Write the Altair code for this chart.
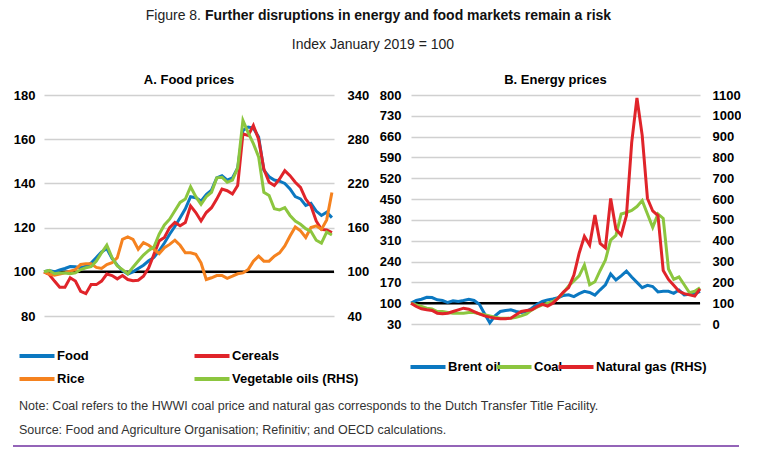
import json
import altair as alt
import pandas as pd

# ---------------- data ----------------
tick_labels = ["Jan-19", "Dec-19", "Nov-20", "Oct-21", "Sep-22", "Aug-23"]
tick_months = [0, 11, 22, 33, 44, 55]

food_names = ["Food", "Cereals", "Rice", "Vegetable oils (RHS)"]
food_colors = ["#0b78c1", "#e0242a", "#f5821f", "#8cc63f"]
energy_names = ["Brent oil", "Coal", "Natural gas (RHS)"]
energy_colors = ["#0b78c1", "#8cc63f", "#e0242a"]

food = [100, 100.6, 100, 100.8, 101.5, 102.4, 102.3, 101.8, 102.5, 104,
        106.5, 109, 110.5, 106, 103, 100.5, 99, 100, 101.5, 103,
        105, 106.5, 109.5, 113, 117, 120.5, 124.5, 128.5, 134, 133.5,
        132, 135, 137, 142.5, 143.5, 141.5, 142.5, 147, 164, 165.5,
        165, 161, 146, 143, 141.5, 141, 140, 137.5, 134, 133,
        130, 131, 127.5, 125.5, 127, 124.5]
cereals = [100, 98.8, 95.8, 93, 93, 97.3, 95.8, 91.2, 90.1, 94.2,
           94.2, 95.8, 99, 98.3, 96.8, 98.3, 96.5, 96, 96.2, 98,
           101.8, 107.9, 114, 115.5, 120, 122.3, 120.8, 122.3, 129.8, 126.8,
           123, 126.8, 129, 132.9, 137.4, 136.7, 135.2, 139, 162.4, 161.7,
           166.2, 160, 146.5, 140.5, 139, 142, 145.8, 143.5, 140.5, 138.2,
           132.9, 129.8, 123, 119.2, 118.9, 117.7]
rice = [100, 99, 98.5, 99, 99.5, 100.3, 101, 103.3, 103.6, 103.6,
        102, 101.5, 103.3, 104.1, 106.4, 114.7, 115.8, 114.7, 110.2, 113.2,
        112, 110.2, 108.2, 110.9, 112.4, 114.3, 112, 108.6, 108.6, 107.9,
        104, 96.5, 97.3, 98.3, 98.3, 97, 98, 99.1, 99.5, 101,
        104.8, 107.1, 104.8, 104.8, 107.1, 108.6, 111.7, 116.2, 120.3, 118.5,
        115.5, 120, 120.8, 119.2, 123.5, 135.9]
veg_oils = [100, 101.8, 97.3, 98.5, 98.5, 97.3, 98.5, 103, 105.4, 106.9,
            114.7, 125.8, 136.3, 119.2, 107.8, 103, 97.3, 106.3, 114.7, 122.8,
            129.1, 133.6, 151, 163.6, 171.4, 182.8, 194.2, 198.7, 215.5, 202,
            191.5, 202, 208, 227.5, 228.4, 221.5, 224.5, 241, 305.5, 289,
            274, 256, 208, 203.5, 185.5, 184, 187, 176.5, 169, 164.5,
            158.5, 155, 142.9, 139, 154, 150]

brent = [100, 109, 113.4, 120, 119, 111.2, 109, 102.2, 107.8, 105.6,
         109, 113.4, 109, 96.6, 64.2, 34, 57.4, 72, 75.4, 77.6,
         72, 68.6, 72, 83.2, 96.6, 105.6, 111.2, 114, 118, 126,
         128, 122, 132, 140, 136, 127, 145, 162, 198, 178,
         192, 208, 188, 170, 152, 160, 156, 138, 140, 140,
         133, 144, 128, 130, 132, 140]
coal = [100, 94.4, 88.8, 83.2, 81, 72, 72, 68.6, 66.4, 66.4,
        66.4, 68.6, 68.6, 64.2, 60.8, 57.4, 53, 49.6, 49.6, 49.6,
        53, 57.4, 64.2, 77.6, 86.6, 94.4, 100, 105.6, 117, 135,
        158, 175, 192, 228, 162, 172, 210, 245, 312, 328,
        400, 405, 412, 425, 445, 400, 355, 400, 385, 215,
        180, 188, 162, 135, 140, 152]
gas = [100, 84, 73, 68, 65, 52, 49, 52, 60, 68,
       76, 71, 60, 49, 39, 33, 28, 25, 25, 28,
       44, 60, 65, 68, 84, 95, 86, 100, 125, 153,
       175, 235, 340, 421, 379, 523, 387, 366, 603, 455,
       427, 521, 871, 1086, 906, 603, 543, 521, 257, 214,
       186, 157, 146, 140, 134, 169]

header_prefix = "Figure 8."
header_main = "Further disruptions in energy and food markets remain a risk"
header_sub = "Index January 2019 = 100"
note_text = "Note: Coal refers to the HWWI coal price and natural gas corresponds to the Dutch Transfer Title Facility."
source_text = "Source: Food and Agriculture Organisation; Refinitiv; and OECD calculations."

# ---------------- styling ----------------
AXIS_FONT = "Liberation Sans, Arial, Helvetica, sans-serif"
TEXT_FONT = "Liberation Sans, Arial, Helvetica, sans-serif"
GRID = "#d0d0d0"
LABEL_EXPR = json.dumps(tick_labels) + "[round(datum.value / 11)]"
LBL = dict(labelFont=AXIS_FONT, labelFontSize=13, labelFontWeight="bold", labelColor="#000")
LEGEND_LINE = "M-3.5,0H3.5"   # long flat legend stroke


def long_df(series):
    rows = []
    for name, vals in series:
        for i, v in enumerate(vals):
            rows.append({"m": i, "v": v, "s": name})
    return pd.DataFrame(rows)


def panel(left_series, right_series, names, colors, xmax, width, height,
          ydomL, ystepL, ydomR, ystepR, title, title_offset, legend, llabelpad, rlabelpad):
    color = alt.Color("s:N", scale=alt.Scale(domain=names, range=colors),
                      sort=names, legend=legend)
    xscale = alt.Scale(domain=[0, xmax], nice=False, zero=False)
    x_axis = alt.Axis(values=tick_months, labelExpr=LABEL_EXPR, title=None, grid=False,
                      domainColor="#bdbdbd", domainWidth=1.5, tickColor="#bdbdbd",
                      tickWidth=1.5, tickSize=5, labelPadding=2, labelFlush=False, **LBL)
    yvalsL = list(range(ydomL[0], ydomL[1] + 1, ystepL))
    yvalsR = list(range(ydomR[0], ydomR[1] + 1, ystepR))
    yL = alt.Y("v:Q", scale=alt.Scale(domain=ydomL, nice=False, zero=False),
               axis=alt.Axis(values=yvalsL, title=None, grid=True, gridColor=GRID,
                             gridWidth=1.5, domain=False, ticks=False,
                             labelPadding=llabelpad, format="d", **LBL))
    yR = alt.Y("v:Q", scale=alt.Scale(domain=ydomR, nice=False, zero=False),
               axis=alt.Axis(values=yvalsR, title=None, orient="right", grid=False,
                             domain=False, ticks=False, labelPadding=rlabelpad,
                             format="d", **LBL))
    base_rule = alt.Chart(pd.DataFrame({"v": [100]})).mark_rule(
        color="black", strokeWidth=2.5).encode(y=yL)
    left = alt.Chart(long_df(left_series)).mark_line(strokeWidth=3).encode(
        x=alt.X("m:Q", scale=xscale, axis=x_axis), y=yL, color=color)
    right = alt.Chart(long_df(right_series)).mark_line(strokeWidth=3).encode(
        x=alt.X("m:Q", scale=xscale, axis=None), y=yR, color=color)
    return alt.layer(alt.layer(base_rule, left), right).resolve_scale(
        y="independent").properties(
        width=width, height=height,
        title=alt.TitleParams(title, font=AXIS_FONT, fontSize=13, fontWeight="bold",
                              color="#000", offset=title_offset))


legend_kw = dict(title=None, orient="none", direction="horizontal", symbolType=LEGEND_LINE,
                 symbolSize=100, symbolStrokeWidth=4, symbolFillColor="transparent",
                 labelFont=AXIS_FONT, labelFontSize=13, labelFontWeight="bold",
                 labelColor="#000", labelOffset=13)

panel_a = panel(
    [("Food", food), ("Cereals", cereals), ("Rice", rice)],
    [("Vegetable oils (RHS)", veg_oils)],
    food_names, food_colors, 55.4, 290, 221, [80, 180], 20, [40, 340], 60,
    "A. Food prices", 2,
    alt.Legend(legendX=-14, legendY=254, columns=2, columnPadding=97, rowPadding=7,
               **legend_kw), 9, 13)

panel_b = panel(
    [("Brent oil", brent), ("Coal", coal)],
    [("Natural gas (RHS)", gas)],
    energy_names, energy_colors, 55, 289, 229, [30, 800], 70, [0, 1100], 100,
    "B. Energy prices", 2,
    alt.Legend(legendX=10, legendY=265, columns=3, columnPadding=-13,
               **legend_kw), 10, 12)

body = alt.hconcat(panel_a, panel_b, spacing=10).resolve_scale(color="independent")

one = pd.DataFrame({"k": [0]})
header = alt.layer(
    alt.Chart(one).mark_text(align="right", baseline="middle", font=TEXT_FONT,
                             fontSize=14, color="#222").encode(
        x=alt.value(157), y=alt.value(5.5), text=alt.value(header_prefix)),
    alt.Chart(one).mark_text(align="left", baseline="middle", font=TEXT_FONT,
                             fontSize=14, fontWeight="bold", color="#111").encode(
        x=alt.value(161), y=alt.value(5.5), text=alt.value(header_main)),
    alt.Chart(one).mark_text(align="center", baseline="middle", font=TEXT_FONT,
                             fontSize=14, color="#222").encode(
        x=alt.value(329), y=alt.value(35), text=alt.value(header_sub)),
).properties(width=690, height=64)

footer = alt.layer(
    alt.Chart(one).mark_text(align="left", baseline="middle", font=TEXT_FONT,
                             fontSize=12.5, color="#333").encode(
        x=alt.value(-25), y=alt.value(19), text=alt.value(note_text)),
    alt.Chart(one).mark_text(align="left", baseline="middle", font=TEXT_FONT,
                             fontSize=12.5, color="#333").encode(
        x=alt.value(-25), y=alt.value(43), text=alt.value(source_text)),
    alt.Chart(one).mark_rule(color="#7030a0", strokeWidth=1.5).encode(
        x=alt.value(-31), x2=alt.value(695), y=alt.value(59)),
).properties(width=690, height=62)

chart = alt.vconcat(header, body, footer, spacing=0).properties(
    padding={"left": 4, "top": 0, "right": 0, "bottom": 0},
    background="white"
).configure_view(strokeWidth=0)

chart.save("out.html", embed_options={"renderer": "svg", "actions": False})
